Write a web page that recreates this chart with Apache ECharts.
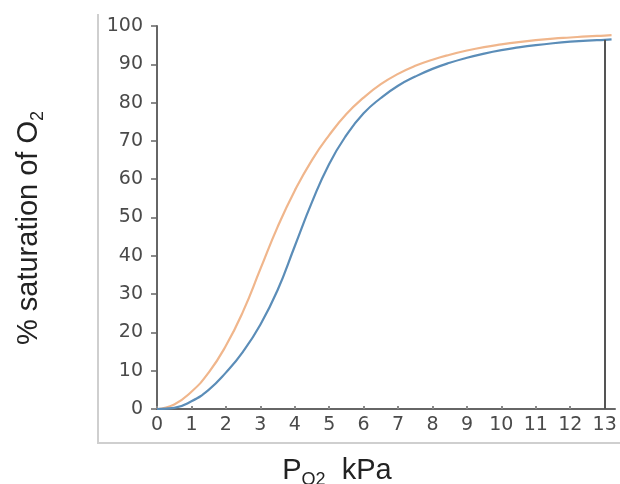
<!DOCTYPE html>
<html>
<head>
<meta charset="utf-8">
<script src="https://cdn.jsdelivr.net/npm/echarts@6/dist/echarts.min.js"></script>
<style>
  html, body { margin: 0; padding: 0; background: #fff; }
  #main { width: 620px; height: 484px; }
</style>
</head>
<body>
<div id="main"></div>
<script>
// oxygen dissociation curves, % saturation vs pO2 (kPa)
var po2 = [0, 0.5, 1, 1.5, 2, 2.5, 3, 3.5, 4, 4.5, 5, 5.5, 6, 6.5, 7, 7.5, 8, 8.5, 9, 9.5, 10, 10.5, 11, 11.5, 12, 12.5, 13, 13.2];
var blueSat = [0, 0.3, 2, 5, 9.5, 15, 22, 31, 42.5, 54, 64, 71.5, 77.2, 81.2, 84.4, 86.8, 88.8, 90.4, 91.7, 92.8, 93.7, 94.4, 95, 95.5, 95.9, 96.2, 96.4, 96.5];
var orangeSat = [0, 1.2, 4.5, 9.5, 16.5, 25.5, 36.5, 47.5, 57, 65, 71.5, 77, 81.3, 84.8, 87.5, 89.6, 91.2, 92.5, 93.6, 94.5, 95.2, 95.8, 96.3, 96.7, 97, 97.3, 97.5, 97.6];
var xTicks = [0, 1, 2, 3, 4, 5, 6, 7, 8, 9, 10, 11, 12, 13];
var dropAt = 13;
var dropTop = blueSat[po2.indexOf(13)];

function pairs(xs, ys) {
  return xs.map(function (x, i) { return [x, ys[i]]; });
}

var myChart = echarts.init(document.getElementById('main'));

var labelFont = 'DejaVu Sans';
var option = {
  animation: false,
  grid: { left: 157, right: 5, top: 26, bottom: 75 },
  xAxis: {
    type: 'value',
    min: 0,
    max: 13.3,
    axisLine: { lineStyle: { color: '#666', width: 2 } },
    axisTick: { customValues: xTicks, inside: true, length: 3, lineStyle: { color: '#888', width: 2 } },
    axisLabel: { customValues: xTicks, color: '#4a4a4a', fontSize: 19, fontFamily: labelFont, margin: 7 },
    splitLine: { show: false }
  },
  yAxis: {
    type: 'value',
    min: 0,
    max: 100,
    interval: 10,
    axisLine: { show: true, lineStyle: { color: '#666', width: 2 } },
    axisTick: { show: true, length: 6, lineStyle: { color: '#666', width: 1.5 } },
    axisLabel: { color: '#4a4a4a', fontSize: 19, fontFamily: labelFont, margin: 14 },
    splitLine: { show: false }
  },
  graphic: [
    { type: 'line', shape: { x1: 98, y1: 14, x2: 98, y2: 443 }, style: { stroke: '#cfcfcf', lineWidth: 2 } },
    { type: 'line', shape: { x1: 97, y1: 443, x2: 620, y2: 443 }, style: { stroke: '#cfcfcf', lineWidth: 2 } },
    {
      type: 'text', x: 29, y: 228, rotation: Math.PI / 2,
      style: {
        text: '{m|% saturation of O}{s|2}',
        align: 'center', verticalAlign: 'middle',
        rich: {
          m: { fontSize: 29, fontFamily: 'Liberation Sans', fill: '#222', lineHeight: 36 },
          s: { fontSize: 18, fontFamily: 'Liberation Sans', fill: '#222', lineHeight: 18, verticalAlign: 'bottom' }
        }
      }
    },
    {
      type: 'text', x: 337, y: 471,
      style: {
        text: '{m|P}{s|O2}{m|  kPa}',
        align: 'center', verticalAlign: 'middle',
        rich: {
          m: { fontSize: 29, fontFamily: 'Liberation Sans', fill: '#222', lineHeight: 36 },
          s: { fontSize: 18, fontFamily: 'Liberation Sans', fill: '#222', lineHeight: 18, verticalAlign: 'bottom' }
        }
      }
    }
  ],
  series: [
    {
      name: 'orange',
      type: 'line',
      smooth: true,
      showSymbol: false,
      data: pairs(po2, orangeSat),
      lineStyle: { color: '#f0b68c', width: 2.2 },
      z: 2
    },
    {
      name: 'blue',
      type: 'line',
      smooth: true,
      showSymbol: false,
      data: pairs(po2, blueSat),
      lineStyle: { color: '#5b8db8', width: 2.2 },
      z: 3,
      markLine: {
        silent: true,
        symbol: 'none',
        label: { show: false },
        lineStyle: { color: '#555', width: 2, type: 'solid' },
        data: [[{ coord: [dropAt, 0] }, { coord: [dropAt, dropTop] }]]
      }
    }
  ]
};

option && myChart.setOption(option);
</script>
</body>
</html>
